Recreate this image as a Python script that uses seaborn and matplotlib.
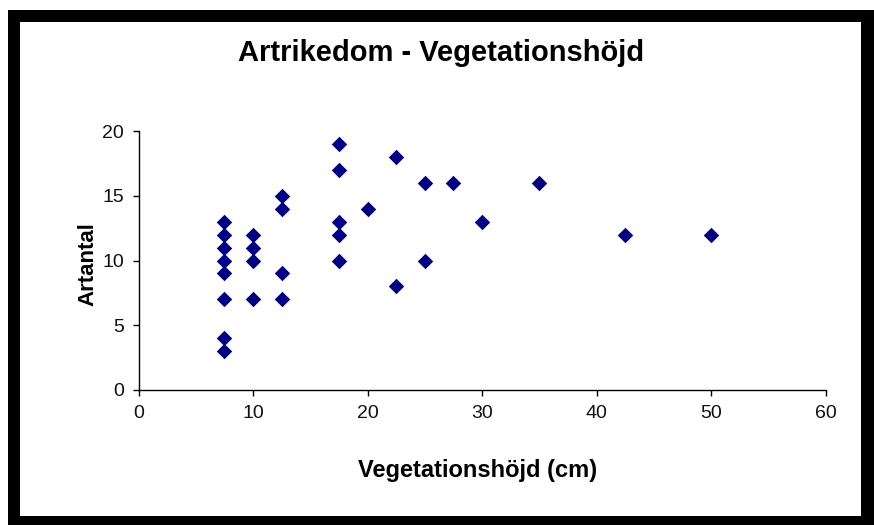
import matplotlib
matplotlib.use("Agg")
import matplotlib.pyplot as plt
from matplotlib.patches import Rectangle
import seaborn as sns
import pandas as pd

# Data
vegetationshojd = [7.5, 7.5, 7.5, 7.5, 7.5, 7.5, 7.5, 7.5,
                   10, 10, 10, 10,
                   12.5, 12.5, 12.5, 12.5,
                   17.5, 17.5, 17.5, 17.5, 17.5,
                   20,
                   22.5, 22.5,
                   25, 25,
                   27.5, 30, 35, 42.5, 50]
artantal = [13, 12, 11, 10, 9, 7, 4, 3,
            12, 11, 10, 7,
            15, 14, 9, 7,
            19, 17, 13, 12, 10,
            14,
            18, 8,
            16, 10,
            16, 13, 16, 12, 12]
x_ticks = [0, 10, 20, 30, 40, 50, 60]
y_ticks = [0, 5, 10, 15, 20]

df = pd.DataFrame({"Vegetationshöjd (cm)": vegetationshojd, "Artantal": artantal})

sns.set_theme(style="white")
plt.rcParams["font.family"] = ["Liberation Sans", "DejaVu Sans"]

W, H = 874, 525
fig = plt.figure(figsize=(W / 100, H / 100), dpi=100)
fig.patch.set_facecolor("white")

def fx(px):
    return px / W

def fy(py):
    return 1 - py / H

ax = fig.add_axes([fx(138.5), fy(390), fx(825.7) - fx(138.5), fy(131) - fy(390)])
sns.scatterplot(data=df, x="Vegetationshöjd (cm)", y="Artantal", ax=ax,
                marker="D", s=62, color="#000080", edgecolor="#000080",
                linewidth=0, legend=False, clip_on=False)

ax.set_xlim(0, 60)
ax.set_ylim(0, 20)
ax.set_xticks(x_ticks)
ax.set_yticks(y_ticks)
ax.set_xticklabels([str(t) for t in x_ticks])
ax.set_yticklabels([str(t) for t in y_ticks])
for s in ["top", "right"]:
    ax.spines[s].set_visible(False)
for s in ["left", "bottom"]:
    ax.spines[s].set_color("black")
    ax.spines[s].set_linewidth(1.0)
ax.tick_params(axis="both", which="major", direction="out", length=4.5, width=1.0,
               color="black", labelsize=14, labelcolor="#111111", pad=6,
               bottom=True, left=True)
ax.set_xlabel("")
ax.set_ylabel("")
ax.set_facecolor("white")
ax.grid(False)

fig.text(fx(441), fy(53), "Artrikedom - Vegetationshöjd", ha="center", va="center",
         fontsize=21, fontweight="bold", color="black")
fig.text(fx(478), fy(471), "Vegetationshöjd (cm)", ha="center", va="center",
         fontsize=17, fontweight="bold", color="black")
fig.text(fx(88), fy(264), "Artantal", ha="center", va="center", rotation=90,
         fontsize=16, fontweight="bold", color="black")

# black outer frame
for (x0, y0, x1, y1) in [(8, 10, 20, 525), (8, 10, 874, 22), (861, 10, 874, 525), (8, 516, 874, 525)]:
    fig.patches.append(Rectangle((fx(x0), fy(y1)), fx(x1) - fx(x0), fy(y0) - fy(y1),
                                 transform=fig.transFigure, facecolor="black",
                                 edgecolor="none", zorder=10))

fig.savefig("out.png", dpi=100, facecolor="white")
